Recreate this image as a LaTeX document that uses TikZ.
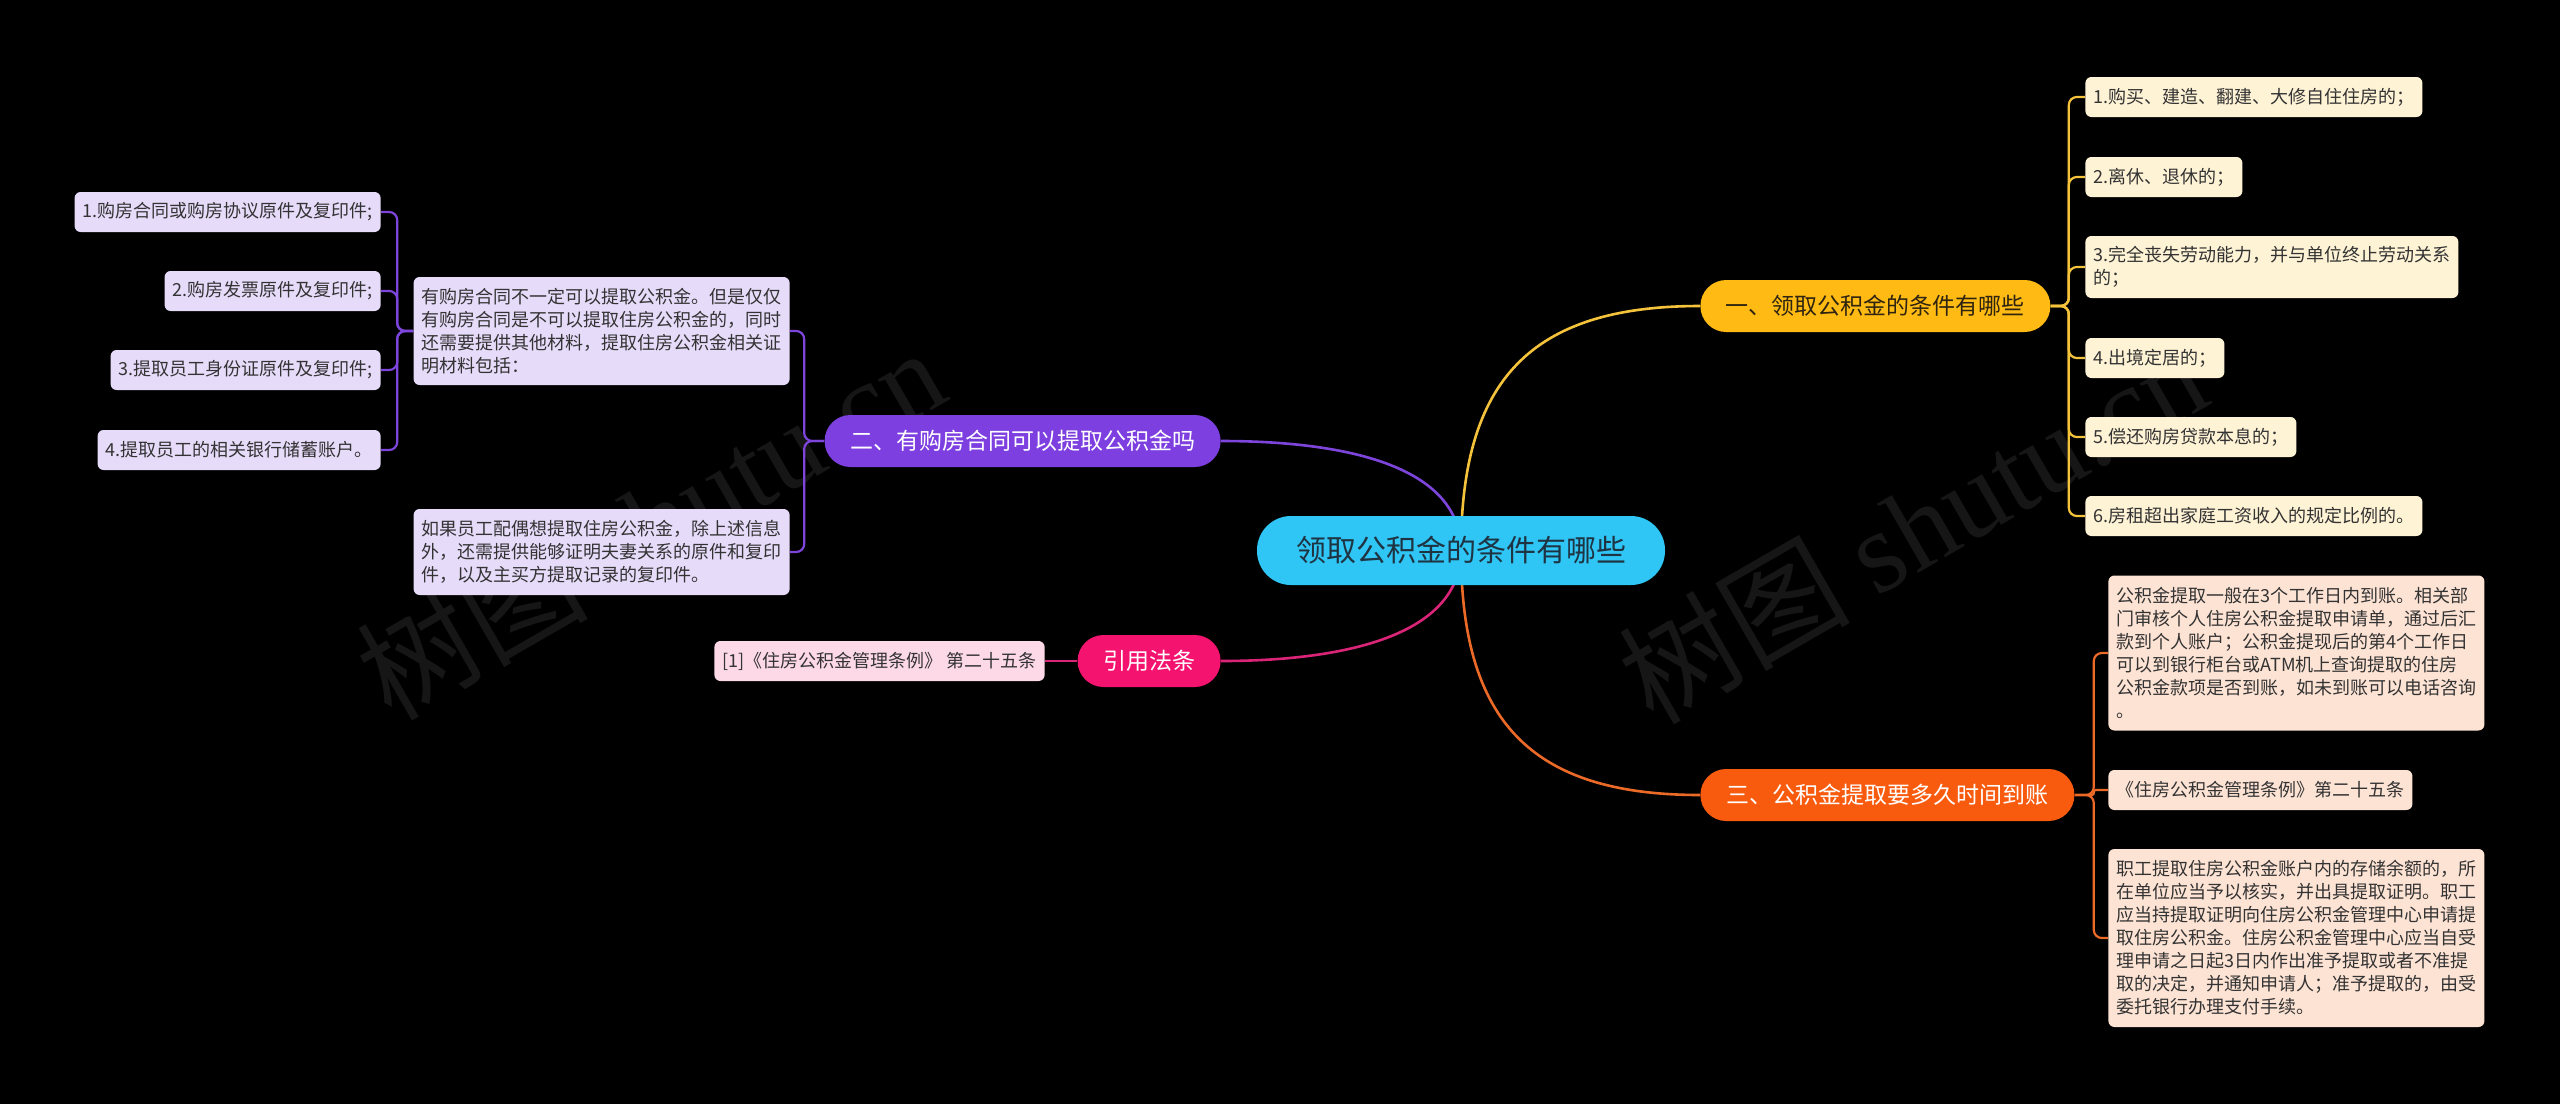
\documentclass[tikz,border=0pt]{standalone}
\usepackage{fontspec}
\setmainfont{Noto Sans CJK SC}
\newfontfamily\wmserif{Liberation Serif}
\pgfdeclarelayer{bg}
\pgfdeclarelayer{edges}
\pgfsetlayers{bg,edges,main}
\definecolor{cC}{HTML}{2FC5F5}
\definecolor{cCt}{HTML}{1E3443}
\definecolor{cY}{HTML}{FFBB14}
\definecolor{cYt}{HTML}{2E2410}
\definecolor{cO}{HTML}{F95B0E}
\definecolor{cP}{HTML}{7E3FE0}
\definecolor{cK}{HTML}{F4136F}
\definecolor{lY}{HTML}{FFF3D6}
\definecolor{lO}{HTML}{FDE3D4}
\definecolor{lP}{HTML}{E7DBFA}
\definecolor{lK}{HTML}{FDD9E8}
\definecolor{eY}{HTML}{F5C33B}
\definecolor{eO}{HTML}{EC6A28}
\definecolor{eP}{HTML}{7D45DB}
\definecolor{eK}{HTML}{D92477}
\definecolor{leaftext}{HTML}{333333}
\definecolor{wm}{HTML}{161616}
\newcommand\leaffont{\fontsize{9pt}{11.5pt}\selectfont}
\newcommand\brfont{\fontsize{11.5pt}{14pt}\selectfont}
\newcommand\cfont{\fontsize{15pt}{18pt}\selectfont}
\begin{document}
\begin{tikzpicture}[x=0.5pt,y=-0.5pt,
  leaf/.style={rounded corners=3pt, inner xsep=4pt, inner ysep=2pt, align=left,
    font=\leaffont, text=leaftext, minimum height=20pt},
  leafY/.style={leaf, fill=lY, anchor=west},
  leafO/.style={leaf, fill=lO, anchor=west},
  leafP/.style={leaf, fill=lP, anchor=east},
  leafK/.style={leaf, fill=lK, anchor=east},
  branch/.style={rounded corners=12.9pt, minimum height=26pt, inner sep=0pt,
    font=\brfont},
  hub/.style={rounded corners=17pt, minimum height=34.5pt, minimum width=204pt,
    inner sep=0pt, fill=cC, text=cCt, font=\cfont},
  mainedge/.style={line width=1.3pt},
  leafedge/.style={line width=1.1pt, rounded corners=4pt},
  wmark/.style={rotate=30, text=wm, font=\fontsize{58pt}{60pt}\selectfont}
]
\begin{pgfonlayer}{bg}
\fill[black] (0,0) rectangle (2560,1104);
\useasboundingbox (0,0) rectangle (2560,1104);
\node[wmark] (wm1) at (650,522) {树图 {\wmserif shutu.cn}};
\node[wmark] (wm2) at (1912,526) {树图 {\wmserif shutu.cn}};
\end{pgfonlayer}

% hub and branches
\node[hub] (c) at (1461,550.5) {领取公积金的条件有哪些};
\node[branch, fill=cY, text=cYt, minimum width=175pt, anchor=west] (b1) at (1700,306) {一、领取公积金的条件有哪些};
\node[branch, fill=cO, text=white, minimum width=187pt, anchor=west] (b3) at (1700,795) {三、公积金提取要多久时间到账};
\node[branch, fill=cP, text=white, minimum width=198pt, anchor=east] (b2) at (1221,441) {二、有购房合同可以提取公积金吗};
\node[branch, fill=cK, text=white, minimum width=71.5pt, anchor=east] (bk) at (1221,661) {引用法条};

% yellow leaves
\node[leafY] (y1) at (2085,97) {1.购买、建造、翻建、大修自住住房的；};
\node[leafY] (y2) at (2085,177) {2.离休、退休的；};
\node[leafY, minimum height=31pt] (y3) at (2085,267) {3.完全丧失劳动能力，并与单位终止劳动关系\\的；};
\node[leafY] (y4) at (2085,358) {4.出境定居的；};
\node[leafY] (y5) at (2085,437) {5.偿还购房贷款本息的；};
\node[leafY] (y6) at (2085,516) {6.房租超出家庭工资收入的规定比例的。};

% orange leaves
\node[leafO, minimum height=77.5pt, minimum width=187pt] (o1) at (2108,653) {公积金提取一般在3个工作日内到账。相关部\\门审核个人住房公积金提取申请单，通过后汇\\款到个人账户；公积金提现后的第4个工作日\\可以到银行柜台或ATM机上查询提取的住房\\公积金款项是否到账，如未到账可以电话咨询\\。};
\node[leafO] (o2) at (2108,790) {《住房公积金管理条例》第二十五条};
\node[leafO, minimum height=89pt, minimum width=187pt] (o3) at (2108,938) {职工提取住房公积金账户内的存储余额的，所\\在单位应当予以核实，并出具提取证明。职工\\应当持提取证明向住房公积金管理中心申请提\\取住房公积金。住房公积金管理中心应当自受\\理申请之日起3日内作出准予提取或者不准提\\取的决定，并通知申请人；准予提取的，由受\\委托银行办理支付手续。};

% purple leaves
\node[leafP, minimum height=54pt, minimum width=187pt] (pa) at (790,331) {有购房合同不一定可以提取公积金。但是仅仅\\有购房合同是不可以提取住房公积金的，同时\\还需要提供其他材料，提取住房公积金相关证\\明材料包括：};
\node[leafP, minimum height=43pt, minimum width=187pt] (pb) at (790,552) {如果员工配偶想提取住房公积金，除上述信息\\外，还需提供能够证明夫妻关系的原件和复印\\件，以及主买方提取记录的复印件。};
\node[leafP] (p1) at (381,212) {1.购房合同或购房协议原件及复印件;};
\node[leafP] (p2) at (381,291) {2.购房发票原件及复印件;};
\node[leafP] (p3) at (381,370) {3.提取员工身份证原件及复印件;};
\node[leafP] (p4) at (381,450) {4.提取员工的相关银行储蓄账户。};

% pink leaf
\node[leafK] (k1) at (1045,661) {[1]《住房公积金管理条例》 第二十五条};

\begin{pgfonlayer}{edges}
% main connectors
\draw[mainedge, eY] (c.center) .. controls +(0,-170) and +(-170,0) .. (b1.west);
\draw[mainedge, eO] (c.center) .. controls +(0,170) and +(-170,0) .. (b3.west);
\draw[mainedge, eP] (c.center) .. controls +(0,-90) and +(110,0) .. (b2.east);
\draw[mainedge, eK] (c.center) .. controls +(0,90) and +(110,0) .. (bk.east);
% yellow
\foreach \n in {y1,y2,y3,y4,y5,y6}
  \draw[leafedge, eY] (b1.east) -- ++(18,0) |- (\n.west);
% orange
\draw[leafedge, eO] (b3.east) -- ++(19,0) |- (o1.west);
\draw[leafedge, eO, rounded corners=1pt] (b3.east) -- ++(19,0) |- (o2.west);
\draw[leafedge, eO] (b3.east) -- ++(19,0) |- (o3.west);
% purple
\draw[leafedge, eP] (b2.west) -- ++(-20,0) |- (pa.east);
\draw[leafedge, eP] (b2.west) -- ++(-20,0) |- (pb.east);
\foreach \n in {p1,p2,p3,p4}
  \draw[leafedge, eP] (pa.west) -- ++(-16,0) |- (\n.east);
% pink
\draw[leafedge, eK] (bk.west) -- (k1.east);
\end{pgfonlayer}
\end{tikzpicture}
\end{document}
